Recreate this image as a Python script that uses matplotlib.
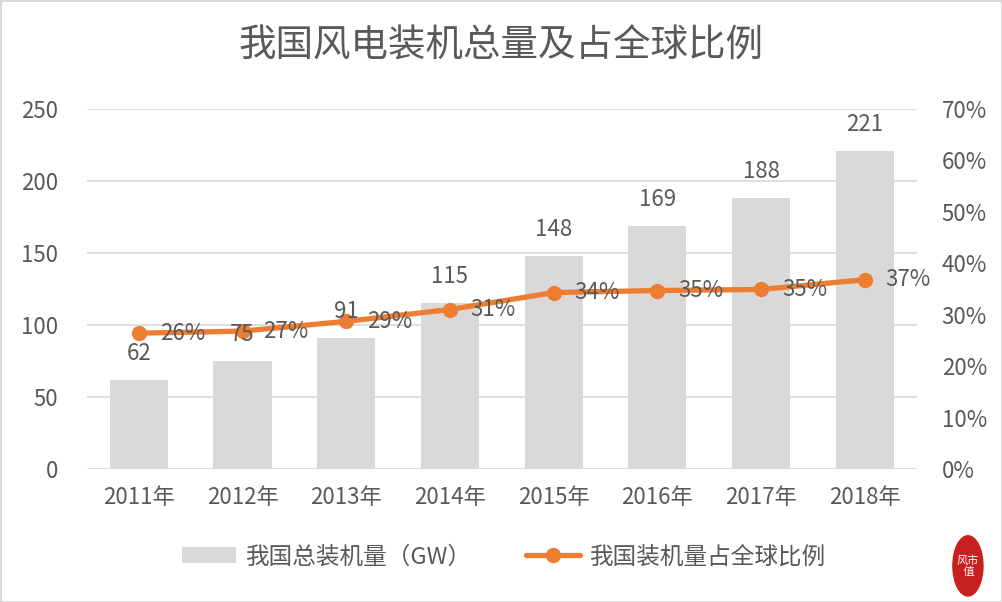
import numpy as np
import matplotlib
matplotlib.use('Agg')
import matplotlib.pyplot as plt
from matplotlib.patches import Ellipse

plt.rcParams['font.family'] = ['Noto Sans CJK SC', 'DejaVu Sans']

# data
years = ['2011年', '2012年', '2013年', '2014年', '2015年', '2016年', '2017年', '2018年']
capacity = [62, 75, 91, 115, 148, 169, 188, 221]          # GW
share = [26.4, 26.8, 28.7, 31.0, 34.3, 34.7, 34.9, 36.8]  # % of world total

title = '我国风电装机总量及占全球比例'
bar_name = '我国总装机量（GW）'
line_name = '我国装机量占全球比例'

txt = '#595959'
grey = '#d9d9d9'
orange = '#ed7d31'

fig = plt.figure(figsize=(10.02, 6.02), dpi=100)
fig.patch.set_edgecolor(grey)
fig.patch.set_linewidth(2)

ax = fig.add_axes([0.0868, 0.221, 0.828, 0.598])
x = np.arange(len(years))
bars = ax.bar(x, capacity, width=0.56, color=grey, zorder=2, label=bar_name)
ax.set_xlim(-0.5, len(years) - 0.5)
ax.set_ylim(0, 250)
ax.set_yticks(range(0, 251, 50))
ax.set_xticks(x)
ax.set_xticklabels(years)
ax.grid(axis='y', color=grey, lw=1.2, zorder=0)
ax.set_axisbelow(True)
for s in ax.spines.values():
    s.set_visible(False)
ax.tick_params(length=0, colors=txt, labelsize=16)
ax.tick_params(axis='y', pad=21)
ax.tick_params(axis='x', pad=12)

ax2 = ax.twinx()
line, = ax2.plot(x, share, color=orange, lw=3.8, marker='o', ms=10,
                 zorder=3, label=line_name, solid_capstyle='round')
ax2.set_ylim(0, 70)
ax2.set_yticks(range(0, 71, 10))
ax2.set_yticklabels([f'{v}%' for v in range(0, 71, 10)])
for s in ax2.spines.values():
    s.set_visible(False)
ax2.tick_params(length=0, colors=txt, labelsize=16, pad=18)

# bar value labels (drawn in ax2 so they sit on top of the line)
for xi, v in zip(x, capacity):
    ax2.annotate(str(v), (xi, v), xycoords=ax.transData, xytext=(0, 19),
                 textcoords='offset points', ha='center', va='center',
                 fontsize=16, color=txt, zorder=5)

for xi, v in zip(x, share):
    ax2.annotate(f'{round(v)}%', (xi, v), xytext=(15, 0),
                 textcoords='offset points', ha='left', va='center',
                 fontsize=16, color=txt, zorder=5)

fig.text(0.5, 0.924, title, ha='center', va='center', fontsize=27, color=txt)

fig.legend([bars, line], [bar_name, line_name], loc='center',
           bbox_to_anchor=(0.503, 0.075), ncol=2, frameon=False, fontsize=17,
           handlelength=2.3, handletextpad=0.4, columnspacing=2.3,
           labelcolor=txt)

# small red logo, bottom right
fig.patches.append(Ellipse((0.966, 0.06), 0.03, 0.1, transform=fig.transFigure,
                           color='#c8201e', zorder=5))
fig.text(0.966, 0.06, '风市\n 值', ha='center', va='center', fontsize=8,
         color='white', zorder=6)

fig.savefig('out.png', dpi=100)
